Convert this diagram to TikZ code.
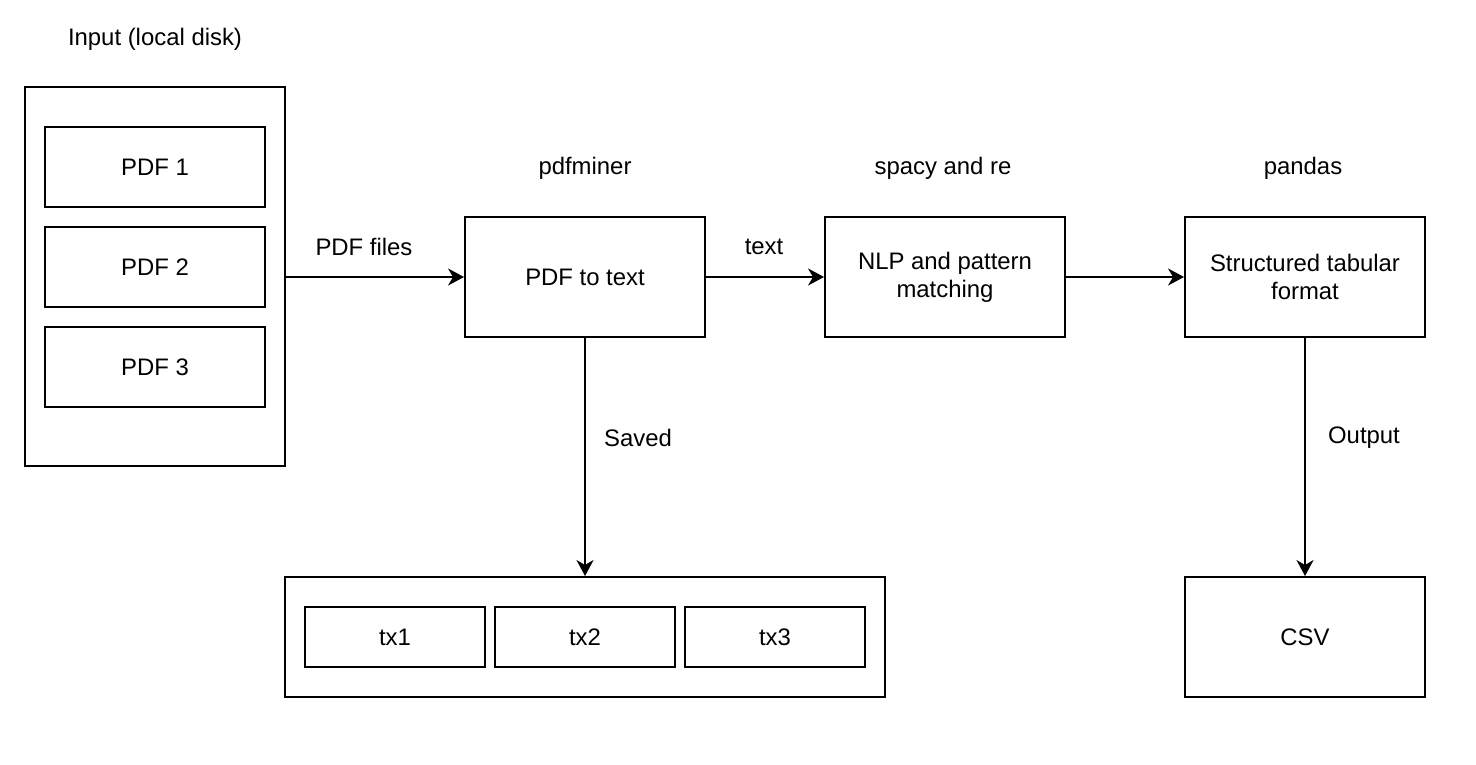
\documentclass[tikz,border=0pt]{standalone}
\usepackage{fontspec}
\setmainfont{Liberation Sans}
\usetikzlibrary{arrows.meta}

\tikzset{
	box/.style={draw, line width=1.13pt, inner sep=0pt, align=center, font=\fontsize{13.6}{16}\selectfont},
	lbl/.style={inner sep=0pt, font=\fontsize{13.6}{16}\selectfont},
	flow/.style={line width=1.13pt, -{Stealth[length=0.32cm, width=0.34cm, inset=0.1cm]}}
}

\begin{document}
\begin{tikzpicture}[x=0.02cm, y=-0.02cm]
			%%%%% START %%%%%
			
			\useasboundingbox (0, 0) rectangle (1476, 764);
			
			% input
			\node[lbl] (inlbl) at (155, 39) {Input (local disk)};
			\node[box, minimum width=5.2cm, minimum height=7.58cm] (disk) at (155, 276.5) {};
			\node[box, minimum width=4.4cm, minimum height=1.6cm] (pdfa) at (155, 167) {PDF 1};
			\node[box, minimum width=4.4cm, minimum height=1.6cm] (pdfb) at (155, 267) {PDF 2};
			\node[box, minimum width=4.4cm, minimum height=1.6cm] (pdfc) at (155, 367) {PDF 3};
			
			% processing
			\node[lbl] (minerlbl) at (585, 168) {pdfminer};
			\node[box, minimum width=4.8cm, minimum height=2.4cm] (totext) at (585, 277) {PDF to text};
			
			\node[lbl] (spacylbl) at (943, 168) {spacy and re};
			\node[box, minimum width=4.8cm, minimum height=2.4cm] (nlp) at (945, 277) {NLP and pattern\\matching};
			
			\node[lbl] (pandaslbl) at (1303, 168) {pandas};
			\node[box, minimum width=4.8cm, minimum height=2.4cm] (table) at (1305, 277) {Structured tabular\\format};
			
			% outputs
			\node[box, minimum width=12cm, minimum height=2.4cm] (txbox) at (585, 637) {};
			\node[box, minimum width=3.6cm, minimum height=1.2cm] (txa) at (395, 637) {tx1};
			\node[box, minimum width=3.6cm, minimum height=1.2cm] (txb) at (585, 637) {tx2};
			\node[box, minimum width=3.6cm, minimum height=1.2cm] (txc) at (775, 637) {tx3};
			
			\node[box, minimum width=4.8cm, minimum height=2.4cm] (csv) at (1305, 637) {CSV};
			
			% arrows
			\draw[flow] (disk.east |- totext) -- (totext.west);
			\node[lbl] (fileslbl) at (364, 247) {PDF files};
			
			\draw[flow] (totext.east) -- (nlp.west);
			\node[lbl] (textlbl) at (764, 247) {text};
			
			\draw[flow] (nlp.east) -- (table.west);
			
			\draw[flow] (totext.south) -- (txbox.north);
			\node[lbl] (savedlbl) at (638, 438) {Saved};
			
			\draw[flow] (table.south) -- (csv.north);
			\node[lbl] (outlbl) at (1364, 438) {Output};
			
			%%%%% END %%%%%
\end{tikzpicture}
\end{document}
